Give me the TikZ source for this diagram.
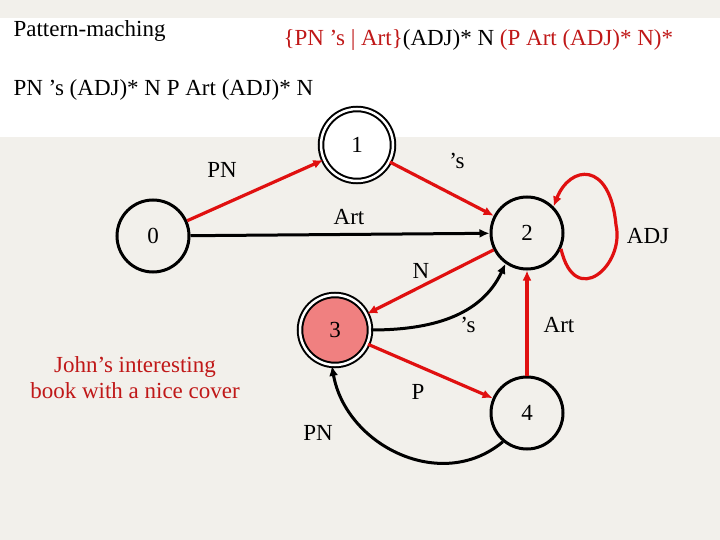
\documentclass[tikz,border=0pt]{standalone}
\usepackage{fontspec}
\setmainfont{Liberation Serif}
\usetikzlibrary{arrows.meta}
\definecolor{bg}{HTML}{F2F0EB}
\definecolor{myred}{HTML}{E01010}
\definecolor{txtred}{HTML}{C01818}
\definecolor{salmon}{HTML}{F08080}
\begin{document}
\begin{tikzpicture}[x=1pt,y=-1pt,
  st/.style={circle,draw,line width=3pt,minimum size=72pt,inner sep=0pt,font=\fontsize{23}{26}\selectfont},
  acc/.style={st,double,double distance=2.5pt,line width=2pt},
  lab/.style={font=\fontsize{23}{26}\selectfont},
  redar/.style={draw=myred,line width=3.2pt,-{Latex[length=10pt,width=9pt]}},
  blkar/.style={draw=black,line width=3pt,-{Latex[length=10pt,width=9pt]}}]
\fill[bg] (0,0) rectangle (720,540);
\fill[white] (0,18) rectangle (720,137);
\useasboundingbox (0,0) rectangle (720,540);
\node[lab,anchor=west] (t1) at (10,31) {Pattern-maching};
\node[lab,anchor=west] (t2) at (280,40) {\textcolor{txtred}{\{PN ’s | Art\}}(ADJ)* N \textcolor{txtred}{(P Art (ADJ)* N)*}};
\node[lab,anchor=west] (t3) at (10,90) {PN ’s (ADJ)* N P Art (ADJ)* N};
\node[st] (n0) at (153,236) {0};
\node[acc,fill=white] (n1) at (357,145) {1};
\node[st] (n2) at (527,233) {2};
\node[acc,fill=salmon,minimum size=70pt] (n3) at (335,330) {3};
\node[st] (n4) at (527,413) {4};
\draw[redar] (n0) -- (n1);
\draw[redar] (n1) -- (n2);
\draw[blkar] (n0) -- (n2);
\draw[redar] (n2) -- (n3);
\draw[blkar] (n3.east) to[out=0,in=-115] (n2.-125);
\draw[redar] (n3) -- (n4);
\draw[redar] (n4) -- (n2);
\draw[blkar] (n4.-130) to[out=-140,in=-80,looseness=1.1] (n3.-95);
\draw[redar] (n2.-25) .. controls (575,310) and (625,265) .. (616,225) .. controls (610,160) and (570,165) .. (n2.45);
\node[lab] (l1) at (222,170) {PN};
\node[lab] (l2) at (457,161) {’s};
\node[lab] (l3) at (349,217) {Art};
\node[lab] (l4) at (421,271) {N};
\node[lab] (l5) at (468,325) {’s};
\node[lab] (l6) at (559,325) {Art};
\node[lab] (l7) at (418,392) {P};
\node[lab] (l8) at (318,433) {PN};
\node[lab] (l9) at (648,236) {ADJ};
\node[lab,text=txtred,align=center] (j) at (135,378) {John’s interesting\\book with a nice cover};
\end{tikzpicture}
\end{document}
